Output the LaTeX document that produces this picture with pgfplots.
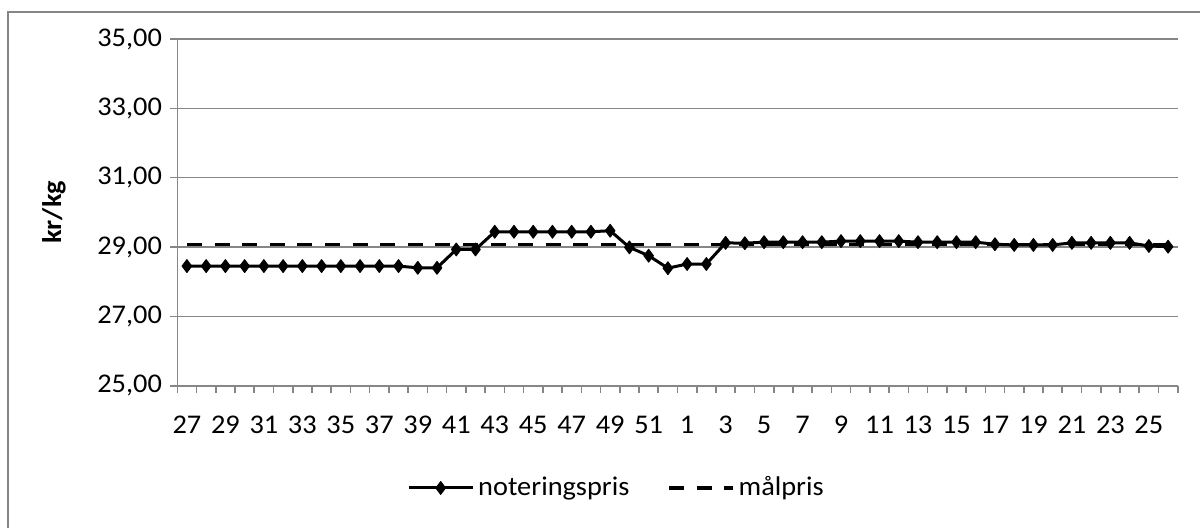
\documentclass[border=0pt]{standalone}
\usepackage{fontspec}
\setmainfont{Carlito}[FakeStretch=1.05]
\usepackage{pgfplots}
\usepackage{pgfplotstable}
\pgfplotsset{compat=1.18}
\definecolor{gridgray}{HTML}{868686}
\pgfplotsset{
  longline legend/.style={legend image code/.code={\draw[mark repeat=2,mark phase=2,##1] plot coordinates {(0bp,0bp) (16bp,0bp) (32bp,0bp)};}},
}

\pgfplotstableread{
idx pris mal
0 28.45 29.08
1 28.45 29.08
2 28.45 29.08
3 28.45 29.08
4 28.45 29.08
5 28.45 29.08
6 28.45 29.08
7 28.45 29.08
8 28.45 29.08
9 28.45 29.08
10 28.45 29.08
11 28.45 29.08
12 28.40 29.08
13 28.40 29.08
14 28.93 29.08
15 28.93 29.08
16 29.44 29.08
17 29.44 29.08
18 29.44 29.08
19 29.44 29.08
20 29.44 29.08
21 29.44 29.08
22 29.47 29.08
23 28.99 29.08
24 28.75 29.08
25 28.39 29.08
26 28.51 29.08
27 28.51 29.08
28 29.12 29.08
29 29.11 29.08
30 29.14 29.08
31 29.14 29.08
32 29.14 29.08
33 29.14 29.08
34 29.17 29.08
35 29.17 29.08
36 29.17 29.08
37 29.17 29.08
38 29.14 29.08
39 29.14 29.08
40 29.14 29.08
41 29.14 29.08
42 29.08 29.08
43 29.06 29.08
44 29.06 29.08
45 29.06 29.08
46 29.12 29.08
47 29.12 29.08
48 29.12 29.08
49 29.12 29.08
50 29.03 29.08
51 29.01 29.08
}\datatable

\newcommand{\chartfont}{\fontsize{13.5bp}{16bp}\selectfont}

\begin{document}
\chartfont
\begin{tikzpicture}
\useasboundingbox (0,0) rectangle (600bp,264bp);
\draw[gridgray, line width=0.8bp] (4bp,-5bp) -- (4bp,258bp) -- (610bp,258bp);
\begin{axis}[
  at={(88.65bp,71.15bp)}, anchor=south west,
  width=500.2bp, height=173.35bp, scale only axis,
  xmin=-0.5, xmax=51.5, ymin=25, ymax=35,
  axis lines*=left,
  axis line style={gridgray, line width=0.8bp},
  tick align=outside,
  major tick length=3.5bp,
  tick style={gridgray, line width=0.8bp},
  ytick={25,27,...,35},
  ymajorgrids,
  grid style={gridgray, line width=0.8bp},
  yticklabel style={anchor=east, inner sep=0pt, xshift=-4bp, font=\chartfont,
    /pgf/number format/.cd, fixed, fixed zerofill, precision=2, use comma, assume math mode=true},
  xtick={-0.5,0.5,...,51.5},
  xticklabels={},
  extra x ticks={0,2,...,50},
  extra x tick labels={27,29,31,33,35,37,39,41,43,45,47,49,51,1,3,5,7,9,11,13,15,17,19,21,23,25},
  extra x tick style={major tick length=0pt, xticklabel style={anchor=north, inner sep=0pt, yshift=-15bp, font=\chartfont}},
  ylabel={\textbf{kr/kg}},
  ylabel style={at={(axis description cs:-0.1233,0.5)}, anchor=center, font=\chartfont},
  legend style={at={(axis description cs:0.440,-0.295)}, anchor=center, draw=none, fill=none,
    legend columns=2, /tikz/every even column/.append style={column sep=17bp},
    font=\chartfont, inner sep=0pt, nodes={inner sep=2bp}},
]
\addplot[black, line width=1.5bp, line join=round, mark=diamond*, mark size=3.2bp,
  mark options={solid, fill=black, line width=0.5bp}, longline legend]
  table[x=idx, y=pris] {\datatable};
\addlegendentry{noteringspris}
\addplot[black, line width=1.6bp, dash pattern=on 7.5bp off 6.3bp, longline legend]
  table[x=idx, y=mal] {\datatable};
\addlegendentry{målpris}
\end{axis}
\end{tikzpicture}
\end{document}
